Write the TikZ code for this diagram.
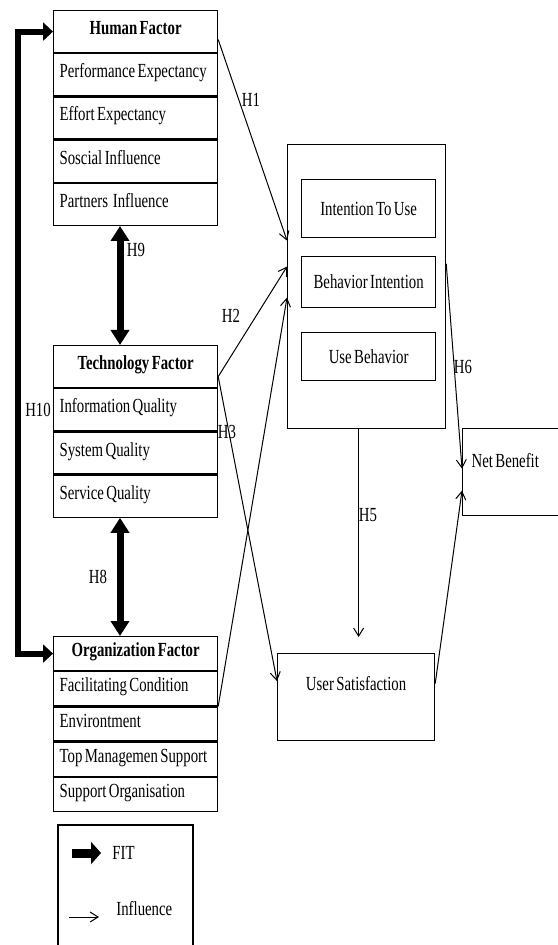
\documentclass[tikz,border=0pt]{standalone}
\usepackage{fontspec}
\setmainfont{Liberation Serif}[FakeStretch=0.74]
\usetikzlibrary{arrows.meta,positioning}

\newcommand\dfont{\fontsize{10}{12}\selectfont\spaceskip=1.2pt\relax}

\tikzset{
  box/.style={draw, line width=0.6pt, inner sep=0pt},
  cell/.style={box, minimum width=82pt, inner xsep=3pt, text height=7pt, text depth=4pt, font=\dfont},
  hcell/.style={cell, minimum height=21pt},
  ocell/.style={cell, minimum height=17pt},
  item/.style={execute at begin node={\hbox to 76pt\bgroup}, execute at end node={\hfil\egroup}},
  hdr/.style={font=\bfseries\dfont},
  inbox/.style={box, minimum width=67pt, font=\dfont},
  lbl/.style={inner sep=0pt, font=\dfont},
  infl/.style={line width=0.5pt, -{Straight Barb[length=4pt,width=5pt]}},
  fitline/.style={line width=3pt, {Triangle[length=5pt,width=9pt]}-{Triangle[length=5pt,width=9pt]}},
  fitboth/.style={line width=3.5pt, {Triangle[length=7.5pt,width=9pt]}-{Triangle[length=7.5pt,width=9pt]}},
  fitarr/.style={line width=4.5pt, -{Triangle[length=5pt,width=11pt]}}
}

\begin{document}
\begin{tikzpicture}[x=0.5pt,y=-0.5pt]
\useasboundingbox (0,0) rectangle (557,945);

% human factor
\node[hcell, hdr, anchor=north west] (hf) at (53,10) {Human Factor};
\node[hcell, item, below=0pt of hf] (hf1) {Performance Expectancy};
\node[hcell, item, below=0pt of hf1] (hf2) {Effort Expectancy};
\node[hcell, item, below=0pt of hf2] (hf3) {Soscial Influence};
\node[hcell, item, below=0pt of hf3] (hf4) {Partners\ \ Influence};

% technology factor
\node[hcell, hdr, anchor=north west] (tf) at (53,345) {Technology Factor};
\node[hcell, item, below=0pt of tf] (tf1) {Information Quality};
\node[hcell, item, below=0pt of tf1] (tf2) {System Quality};
\node[hcell, item, below=0pt of tf2] (tf3) {Service Quality};

% organization factor
\node[ocell, hdr, anchor=north west] (of) at (53,636) {Organization Factor};
\node[ocell, item, below=0pt of of] (of1) {Facilitating Condition};
\node[ocell, item, below=0pt of of1] (of2) {Environtment};
\node[ocell, item, below=0pt of of2] (of3) {Top Managemen Support};
\node[ocell, item, below=0pt of of3] (of4) {Support Organisation};

% use
\node[box, minimum width=79pt, minimum height=142pt, anchor=north west] (ub) at (287,144) {};
\node[inbox, minimum height=29pt, anchor=north west] (itu) at (301,179) {Intention To Use};
\node[inbox, minimum height=25.5pt, anchor=north west] (bi) at (301,256) {Behavior Intention};
\node[inbox, minimum height=24pt, anchor=north west] (usb) at (301,332) {Use Behavior};

\node[box, minimum width=78.5pt, minimum height=43.5pt, text height=7pt, text depth=14pt,
  font=\dfont, anchor=north west] (us) at (277,653) {User Satisfaction};
\node[box, minimum width=50pt, minimum height=43.5pt, inner xsep=4.5pt, text height=7pt, text depth=12pt,
  font=\dfont, execute at begin node={\hbox to 41pt\bgroup}, execute at end node={\hfil\egroup},
  anchor=north west] (nb) at (462,428) {Net Benefit};

% fit
\draw[fitline] (hf.west) -- ++(-35,0) |- (of.west);
\draw[fitboth] ([xshift=33.5pt]hf4.south west) -- ([xshift=33.5pt]tf.north west);
\draw[fitboth] ([xshift=33.5pt]tf3.south west) -- ([xshift=33.5pt]of.north west);
\node[lbl] (h10) at (38,410) {H10};
\node[lbl] (h9) at (136,250) {H9};
\node[lbl] (h8) at (98,577) {H8};

% influence
\draw[infl] ([yshift=-4pt]hf.east) -- ([yshift=23pt]ub.west);
\draw[infl] ([yshift=-5pt]tf.east) -- ([yshift=10pt]ub.west);
\draw[infl] ([yshift=-5pt]tf.east) -- ([yshift=8pt]us.west);
\draw[infl] (of1.south east) -- ([yshift=-5.5pt]ub.west);
\draw[infl, shorten >=8pt] ([xshift=-4pt]ub.south) -- ([xshift=-4pt]ub.south |- us.north);
\draw[infl] ([yshift=11.5pt]ub.east) -- ([yshift=1.75pt]nb.west);
\draw[infl] ([yshift=6.75pt]us.east) -- ([yshift=-9.25pt]nb.west);
\node[lbl] (h1) at (251,100) {H1};
\node[lbl] (h2) at (231,316) {H2};
\node[lbl] (h3) at (227,432) {H3};
\node[lbl] (h5) at (368,515) {H5};
\node[lbl] (h6) at (463,367) {H6};

% legend
\draw[box] (58,950) |- (193,825) -- (193,950);
\coordinate (fita) at (72,853);
\coordinate (fitb) at (101,853);
\draw[fitarr] (fita) -- (fitb);
\node[lbl, anchor=west] (fitlbl) at (112,853) {FIT};
\coordinate (infa) at (69,917);
\coordinate (infb) at (99,917);
\draw[infl] (infa) -- (infb);
\node[lbl, anchor=west] (infllbl) at (116,909) {Influence};
\end{tikzpicture}
\end{document}
